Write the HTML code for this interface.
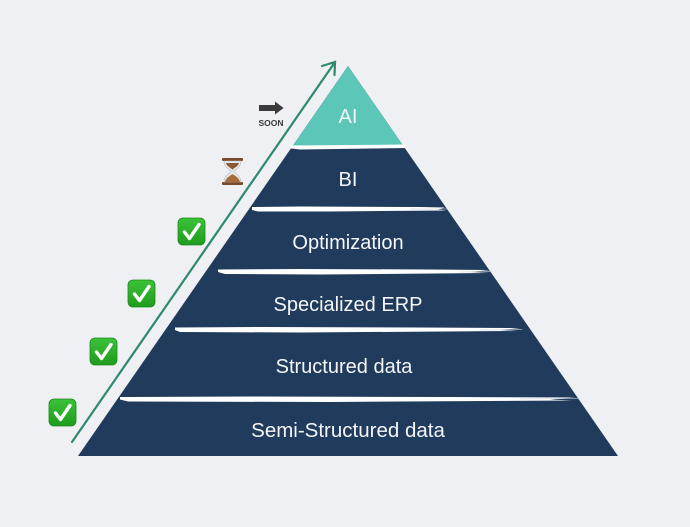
<!DOCTYPE html>
<html><head><meta charset="utf-8"><style>
html,body{margin:0;padding:0;background:#eff0f4;}
svg{display:block;}
text{font-family:"Liberation Sans",Arial,sans-serif;}
</style></head><body>
<svg width="690" height="527" viewBox="0 0 690 527" xmlns="http://www.w3.org/2000/svg">
<defs>
<linearGradient id="g" x1="0" y1="0" x2="0" y2="1">
<stop offset="0" stop-color="#3cc23a"/><stop offset="1" stop-color="#1f9c1c"/>
</linearGradient>
<g id="chk">
<rect x="0" y="0" width="27" height="27" rx="5" fill="url(#g)" stroke="#1b8a1a" stroke-width="0.8"/>
<path d="M6.5 14 L11.5 20.5 L21 6.5" fill="none" stroke="#fff" stroke-width="3.4" stroke-linecap="round" stroke-linejoin="round"/>
</g>
</defs>
<rect width="690" height="527" fill="#eff0f4"/>
<!-- pyramid -->
<polygon points="348,66 618,456 78,456" fill="#213b5c"/>
<polygon points="348,66 404,147 292,147" fill="#5cc6b8"/>
<!-- brush strokes -->
<g fill="#ffffff">
<path d="M291,145.5 L405,144.5 L406,148 L300,149.5 L291,148.5 Z"/>
<path d="M252,207 L300,206.5 L420,207 L445,207.5 L438,209.5 L446,210.5 L330,211.5 L258,211.5 L252,210 Z"/>
<path d="M218,269.5 L300,269 L430,269.5 L490,270 L470,272 L489,273 L320,274.5 L225,274 L218,272 Z"/>
<path d="M175,327.5 L260,327 L420,327.5 L520,328 L500,330 L518,331 L300,332.5 L180,332 L175,330 Z"/>
<path d="M120,397 L250,396.5 L450,397 L575,397.5 L550,399.5 L572,400.5 L330,402 L128,401.5 L120,399.5 Z"/>
</g>
<g fill="none" stroke="#c9cfd8" stroke-width="0.8" opacity="0.8">
<path d="M410,209 L447,209"/><path d="M460,272 L492,271.5"/><path d="M480,330 L522,329.5"/><path d="M520,399 L578,398.5"/>
</g>
<!-- labels -->
<g fill="#f4f6f9" font-size="20" text-anchor="middle">
<text x="348" y="123">AI</text>
<text x="348" y="186">BI</text>
<text x="348" y="249">Optimization</text>
<text x="348" y="311">Specialized ERP</text>
<text x="344" y="373">Structured data</text>
<text x="348" y="437" font-size="20.5">Semi-Structured data</text>
</g>
<!-- growth arrow -->
<g stroke="#2e8a6e" stroke-width="2.2" fill="none" stroke-linecap="round">
<line x1="72" y1="442" x2="335" y2="62"/>
<polyline points="322,66 335,62 334.5,75"/>
</g>
<!-- soon arrow -->
<polygon points="259,105 275,105 275,101.5 283.5,108 275,114.5 275,111 259,111" fill="#3a3a3a"/>
<text x="271" y="126" font-size="8.5" font-weight="bold" fill="#3a3a3a" text-anchor="middle">SOON</text>
<!-- hourglass -->
<g>
<rect x="222" y="158" width="21" height="3" rx="1" fill="#7a4a2a"/>
<rect x="222" y="182" width="21" height="3" rx="1" fill="#7a4a2a"/>
<path d="M224,161 L241,161 C241,168 234,170 234,171.5 C234,173 241,175 241,182 L224,182 C224,175 231,173 231,171.5 C231,170 224,168 224,161 Z" fill="#e6e8ec" stroke="#b9bcc2" stroke-width="0.6"/>
<path d="M226,163 L239,163 C238,167 233,168 232.5,170 C232,168 227,167 226,163 Z" fill="#8a5a34"/>
<path d="M225,182 C226,177 231,175.5 232.5,174 C234,175.5 239,177 240,182 Z" fill="#a86d3c"/>
</g>
<!-- checks -->
<use href="#chk" x="178" y="218"/>
<use href="#chk" x="128" y="280"/>
<use href="#chk" x="90" y="338"/>
<use href="#chk" x="49" y="399"/>
</svg>
</body></html>
